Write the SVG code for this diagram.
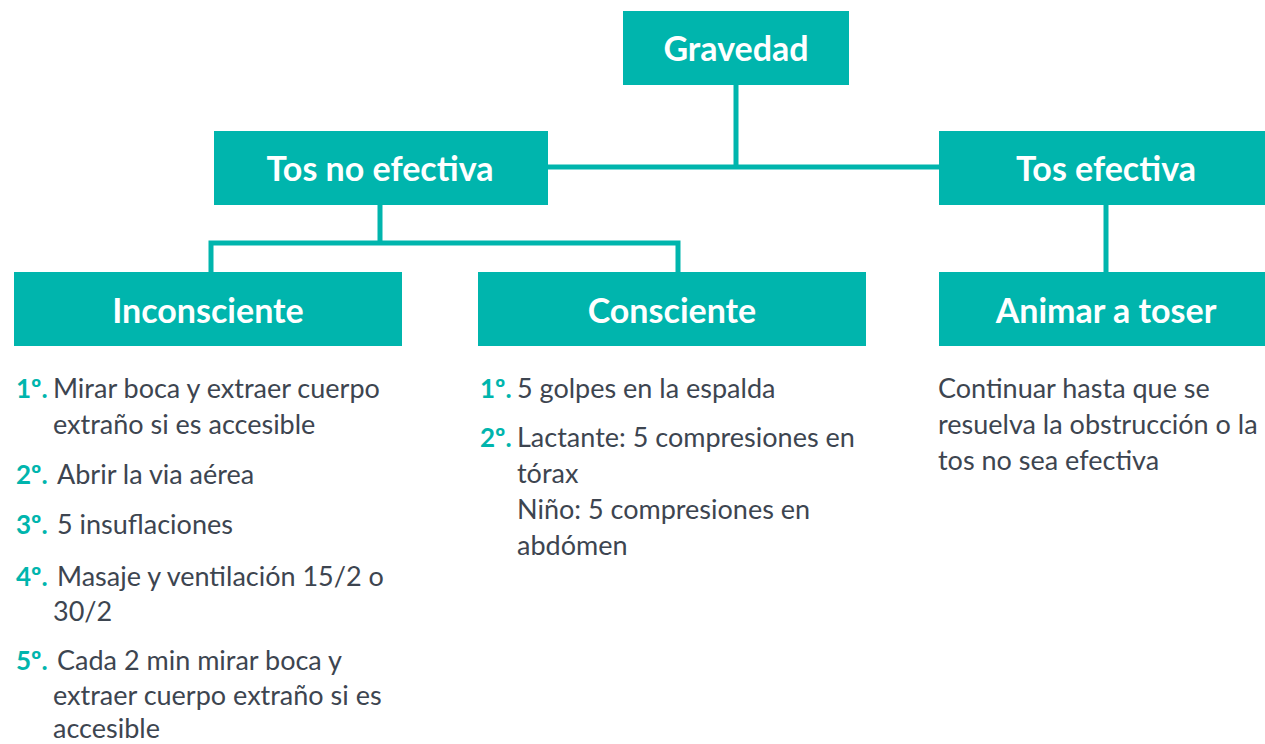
<svg xmlns="http://www.w3.org/2000/svg" width="1265" height="744" viewBox="0 0 1265 744">
<style>
.box{fill:#00b5ad}
.hd{font-family:Lato,"Open Sans","Liberation Sans",sans-serif;font-weight:bold;font-size:34px;fill:#fff;text-anchor:middle}
.tx{font-family:Lato,"Open Sans","Liberation Sans",sans-serif;font-size:27px;fill:#3d4550}
.nm{font-family:Lato,"Open Sans","Liberation Sans",sans-serif;font-weight:bold;font-size:26px;fill:#00b5ad}
.ln{stroke:#00b5ad;stroke-width:5;fill:none}
</style>
<rect width="1265" height="744" fill="#fff"/>
<g id="connectors">
<path class="ln" d="M736,85 V167 M548,167 H940"/>
<path class="ln" d="M380,205 V243 M211,272 V243 H678 V272"/>
<path class="ln" d="M1106,205 V272"/>
</g>
<g id="gravedad"><rect class="box" x="623" y="11" width="226" height="74"/><text class="hd" x="736" y="61">Gravedad</text></g>
<g id="tos-no-efectiva"><rect class="box" x="214" y="131" width="334" height="74"/><text class="hd" x="380" y="181">Tos no efectiva</text></g>
<g id="tos-efectiva"><rect class="box" x="939" y="131" width="326" height="74"/><text class="hd" x="1106" y="181">Tos efectiva</text></g>
<g id="inconsciente"><rect class="box" x="14" y="272" width="388" height="74"/><text class="hd" x="208" y="323">Inconsciente</text></g>
<g id="consciente"><rect class="box" x="478" y="272" width="388" height="74"/><text class="hd" x="672" y="323">Consciente</text></g>
<g id="animar"><rect class="box" x="939" y="272" width="326" height="74"/><text class="hd" x="1106" y="323">Animar a toser</text></g>
<g id="inconsciente-list">
<text class="nm" x="16" y="398">1º.</text><text class="tx" x="53" y="398">Mirar boca y extraer cuerpo</text>
<text class="tx" x="53" y="434">extraño si es accesible</text>
<text class="nm" x="16" y="484">2º.</text><text class="tx" x="57" y="484">Abrir la via aérea</text>
<text class="nm" x="16" y="534">3º.</text><text class="tx" x="57" y="534">5 insuflaciones</text>
<text class="nm" x="16" y="586">4º.</text><text class="tx" x="57" y="586">Masaje y ventilación 15/2 o</text>
<text class="tx" x="53" y="621">30/2</text>
<text class="nm" x="16" y="670">5º.</text><text class="tx" x="57" y="670">Cada 2 min mirar boca y</text>
<text class="tx" x="53" y="705">extraer cuerpo extraño si es</text>
<text class="tx" x="53" y="738">accesible</text>
</g>
<g id="consciente-list">
<text class="nm" x="480" y="398">1º.</text><text class="tx" x="517" y="398">5 golpes en la espalda</text>
<text class="nm" x="480" y="447">2º.</text><text class="tx" x="517" y="447">Lactante: 5 compresiones en</text>
<text class="tx" x="517" y="483">tórax</text>
<text class="tx" x="517" y="519">Niño: 5 compresiones en</text>
<text class="tx" x="517" y="555">abdómen</text>
</g>
<g id="animar-text">
<text class="tx" x="938" y="398">Continuar hasta que se</text>
<text class="tx" x="938" y="434">resuelva la obstrucción o la</text>
<text class="tx" x="938" y="470">tos no sea efectiva</text>
</g>
</svg>
